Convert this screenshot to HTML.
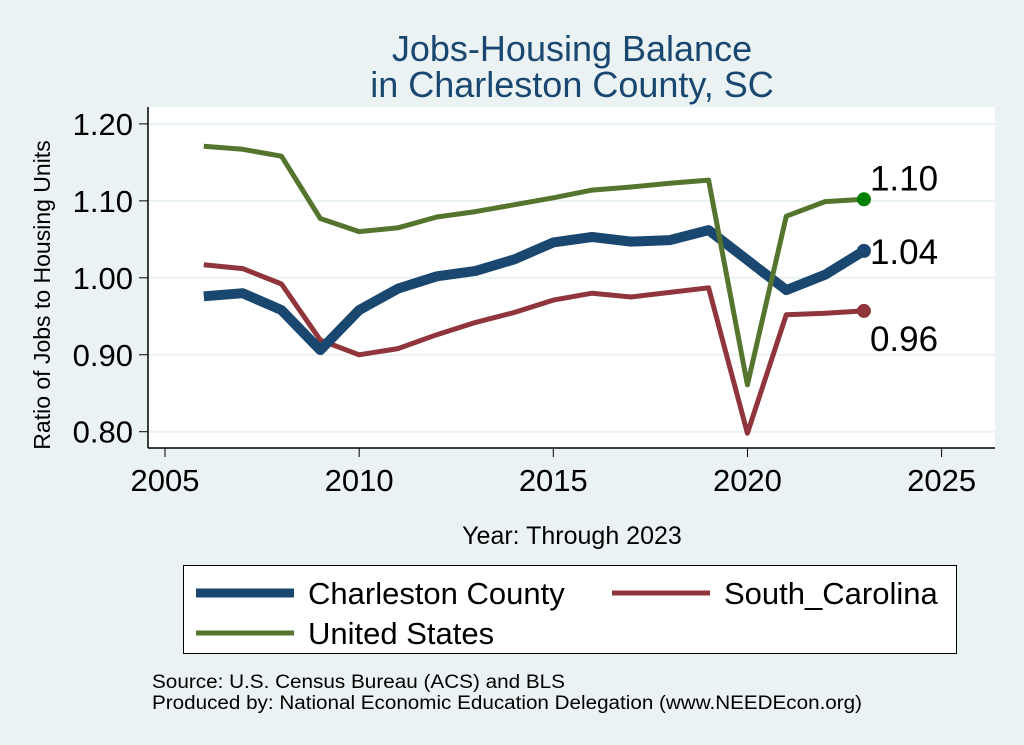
<!DOCTYPE html>
<html><head><meta charset="utf-8"><style>
html,body{margin:0;padding:0;background:#eaf2f3;}
svg{display:block;font-family:"Liberation Sans",Arial,sans-serif;}
</style></head><body>
<svg id="chart" width="1024" height="745" viewBox="0 0 1024 745">
<rect width="1024" height="745" fill="#eaf2f3"/>
<text x="572" y="61" text-anchor="middle" font-size="36" fill="#1a476f">Jobs-Housing Balance</text>
<text x="572" y="97" text-anchor="middle" font-size="36" fill="#1a476f">in Charleston County, SC</text>
<rect x="148" y="107" width="847" height="341" fill="#fff"/>
<g id="grid"></g><g id="axes"></g><g id="series"></g>
<text transform="translate(50,295) rotate(-90)" text-anchor="middle" font-size="23" fill="#000">Ratio of Jobs to Housing Units</text>
<text x="572" y="544" text-anchor="middle" font-size="25" fill="#000">Year: Through 2023</text>
<g>
<rect x="183.5" y="565.5" width="773" height="88" fill="#fff" stroke="#000" stroke-width="1"/>
<g>
<line x1="196" y1="593" x2="294" y2="593" stroke="#1a476f" stroke-width="9"/>
<text x="308" y="604" font-size="31">Charleston County</text></g>
<g>
<line x1="612" y1="593" x2="710" y2="593" stroke="#90353b" stroke-width="5"/>
<text x="724" y="604" font-size="31">South_Carolina</text></g>
<g>
<line x1="196" y1="633" x2="294" y2="633" stroke="#55752f" stroke-width="5"/>
<text x="308" y="644" font-size="31">United States</text></g>
</g>
<text x="152" y="688" font-size="19" textLength="413" lengthAdjust="spacingAndGlyphs">Source: U.S. Census Bureau (ACS) and BLS</text>
<text x="152" y="709" font-size="19" textLength="710" lengthAdjust="spacingAndGlyphs">Produced by: National Economic Education Delegation (www.NEEDEcon.org)</text>
</svg>
<script>
const years=[2006,2007,2008,2009,2010,2011,2012,2013,2014,2015,2016,2017,2018,2019,2020,2021,2022,2023];
const charleston=[0.976,0.980,0.958,0.906,0.958,0.986,1.002,1.009,1.024,1.046,1.053,1.047,1.049,1.062,1.023,0.984,1.004,1.035];
const southCarolina=[1.017,1.012,0.992,0.919,0.900,0.908,0.926,0.942,0.955,0.971,0.980,0.975,0.981,0.987,0.798,0.952,0.954,0.957];
const unitedStates=[1.171,1.167,1.158,1.077,1.060,1.065,1.079,1.086,1.095,1.104,1.114,1.118,1.123,1.127,0.861,1.080,1.099,1.102];
const yTicks=[0.8,0.9,1.0,1.1,1.2];
const yTickLabels=["0.80","0.90","1.00","1.10","1.20"];
const xTicks=[2005,2010,2015,2020,2025];
const endLabels=["1.04","0.96","1.10"];
const NS="http://www.w3.org/2000/svg";
const xS=v=>165+(v-2005)*38.83;
const yS=v=>431.7-(v-0.8)*769.5;
function mk(tag,attrs,parent){const e=document.createElementNS(NS,tag);for(const k in attrs)e.setAttribute(k,attrs[k]);parent.appendChild(e);return e;}
const grid=document.getElementById('grid'),axes=document.getElementById('axes'),ser=document.getElementById('series');
yTicks.forEach((t,i)=>{
 const g=mk('line',{x1:148,x2:995,y1:yS(t),y2:yS(t),stroke:'#eaf2f3','stroke-width':2},grid);
 
 
 const tk=mk('line',{x1:139,x2:148,y1:yS(t),y2:yS(t),stroke:'#000','stroke-width':1},axes);
 
 
 const l=mk('text',{x:133,y:yS(t)+11,'text-anchor':'end','font-size':31},axes);
 l.textContent=yTickLabels[i];
 
 
});
const ya=mk('line',{x1:148,x2:148,y1:107,y2:448,stroke:'#000','stroke-width':1.5},axes);


const xa=mk('line',{x1:148,x2:995,y1:448,y2:448,stroke:'#000','stroke-width':1.5},axes);


xTicks.forEach(t=>{
 const tk=mk('line',{x1:xS(t),x2:xS(t),y1:448,y2:457,stroke:'#000','stroke-width':1},axes);
 
 
 const l=mk('text',{x:xS(t),y:491,'text-anchor':'middle','font-size':31},axes);
 l.textContent=t;
 
 
});
function line(vals,color,w,name,dot,label,ly){
 const d=vals.map((v,i)=>(i?'L':'M')+xS(years[i]).toFixed(1)+','+yS(v).toFixed(1)).join('');
 const p=mk('path',{d:d,fill:'none',stroke:color,'stroke-width':w,'stroke-linejoin':'round'},ser);
 
 
 const n=vals.length-1;
 const c=mk('circle',{cx:xS(years[n]),cy:yS(vals[n]),r:7,fill:dot},ser);
 
 
 const t=mk('text',{x:xS(years[n])+6,y:yS(vals[n])+ly,'font-size':35},ser);
 t.textContent=label;
 
 
}
line(southCarolina,'#90353b',5,'south-carolina','#90353b',endLabels[1],40);
line(charleston,'#1a476f',10,'charleston','#1a476f',endLabels[0],13);
line(unitedStates,'#55752f',5,'united-states','#008000',endLabels[2],-9);
</script>
</body></html>
